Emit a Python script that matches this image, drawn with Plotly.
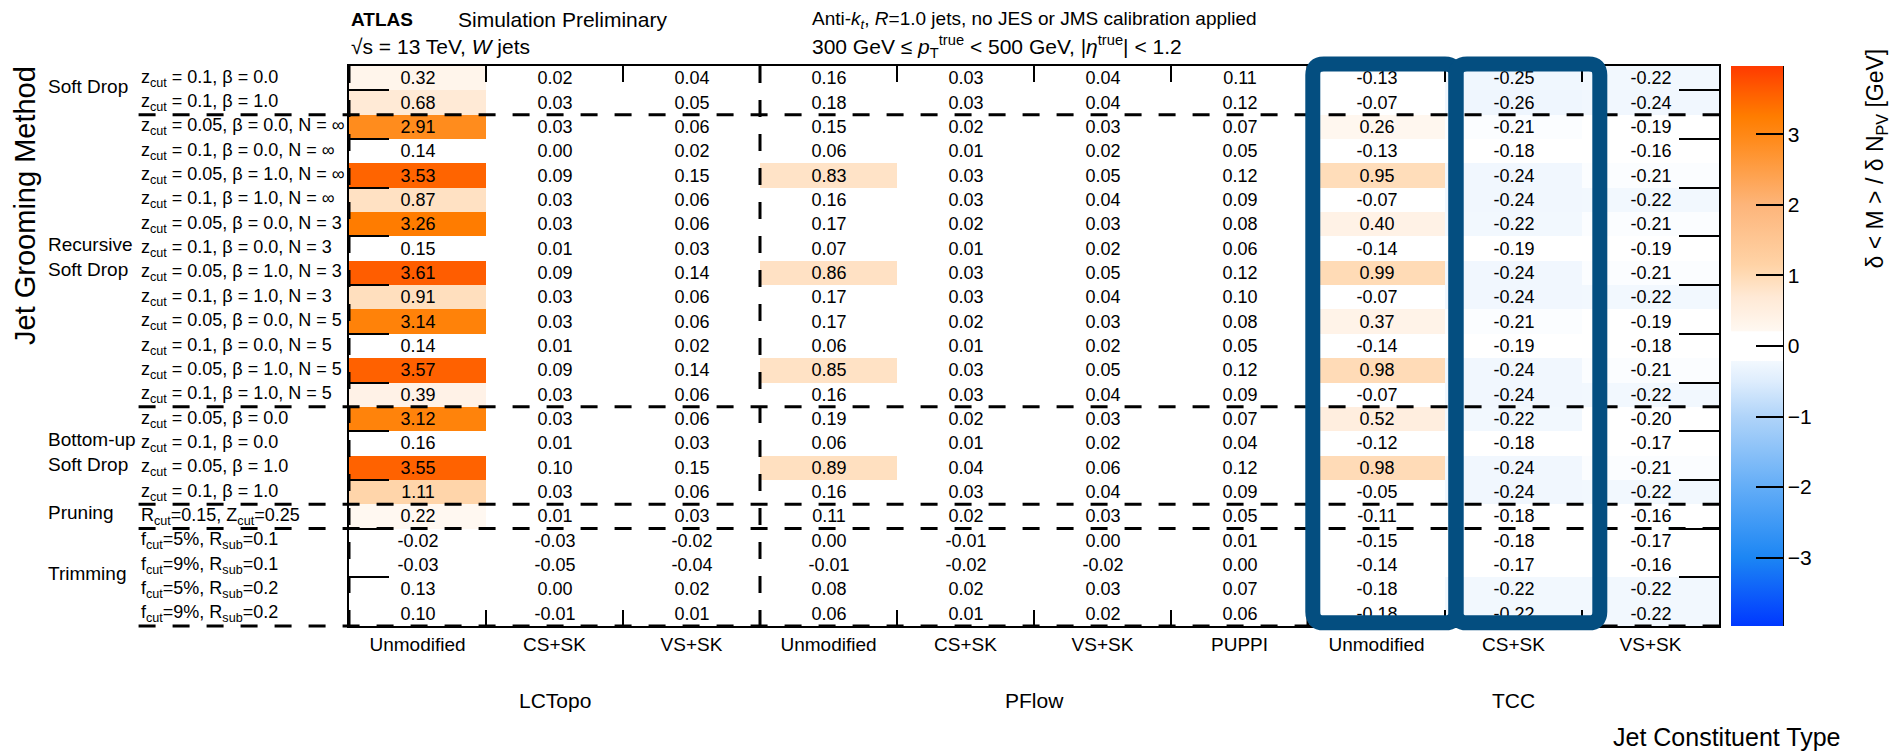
import plotly.graph_objects as go

# ---------------- data ----------------
column_labels = ["Unmodified", "CS+SK", "VS+SK",
                 "Unmodified", "CS+SK", "VS+SK", "PUPPI",
                 "Unmodified", "CS+SK", "VS+SK"]
constituent_groups = ["LCTopo", "PFlow", "TCC"]
constituent_group_sizes = [3, 4, 3]

row_labels = [
    "z<sub>cut</sub> = 0.1, β = 0.0",
    "z<sub>cut</sub> = 0.1, β = 1.0",
    "z<sub>cut</sub> = 0.05, β = 0.0, N = ∞",
    "z<sub>cut</sub> = 0.1, β = 0.0, N = ∞",
    "z<sub>cut</sub> = 0.05, β = 1.0, N = ∞",
    "z<sub>cut</sub> = 0.1, β = 1.0, N = ∞",
    "z<sub>cut</sub> = 0.05, β = 0.0, N = 3",
    "z<sub>cut</sub> = 0.1, β = 0.0, N = 3",
    "z<sub>cut</sub> = 0.05, β = 1.0, N = 3",
    "z<sub>cut</sub> = 0.1, β = 1.0, N = 3",
    "z<sub>cut</sub> = 0.05, β = 0.0, N = 5",
    "z<sub>cut</sub> = 0.1, β = 0.0, N = 5",
    "z<sub>cut</sub> = 0.05, β = 1.0, N = 5",
    "z<sub>cut</sub> = 0.1, β = 1.0, N = 5",
    "z<sub>cut</sub> = 0.05, β = 0.0",
    "z<sub>cut</sub> = 0.1, β = 0.0",
    "z<sub>cut</sub> = 0.05, β = 1.0",
    "z<sub>cut</sub> = 0.1, β = 1.0",
    "R<sub>cut</sub>=0.15, Z<sub>cut</sub>=0.25",
    "f<sub>cut</sub>=5%, R<sub>sub</sub>=0.1",
    "f<sub>cut</sub>=9%, R<sub>sub</sub>=0.1",
    "f<sub>cut</sub>=5%, R<sub>sub</sub>=0.2",
    "f<sub>cut</sub>=9%, R<sub>sub</sub>=0.2",
]
method_groups = ["Soft Drop", "Recursive<br>Soft Drop", "Bottom-up<br>Soft Drop", "Pruning", "Trimming"]
method_group_sizes = [2, 12, 4, 1, 4]

lctopo_unmodified = [0.32, 0.68, 2.91, 0.14, 3.53, 0.87, 3.26, 0.15, 3.61, 0.91, 3.14, 0.14,
                     3.57, 0.39, 3.12, 0.16, 3.55, 1.11, 0.22, -0.02, -0.03, 0.13, 0.10]
lctopo_cs_sk = [0.02, 0.03, 0.03, 0.00, 0.09, 0.03, 0.03, 0.01, 0.09, 0.03, 0.03, 0.01,
                0.09, 0.03, 0.03, 0.01, 0.10, 0.03, 0.01, -0.03, -0.05, 0.00, -0.01]
lctopo_vs_sk = [0.04, 0.05, 0.06, 0.02, 0.15, 0.06, 0.06, 0.03, 0.14, 0.06, 0.06, 0.02,
                0.14, 0.06, 0.06, 0.03, 0.15, 0.06, 0.03, -0.02, -0.04, 0.02, 0.01]
pflow_unmodified = [0.16, 0.18, 0.15, 0.06, 0.83, 0.16, 0.17, 0.07, 0.86, 0.17, 0.17, 0.06,
                    0.85, 0.16, 0.19, 0.06, 0.89, 0.16, 0.11, 0.00, -0.01, 0.08, 0.06]
pflow_cs_sk = [0.03, 0.03, 0.02, 0.01, 0.03, 0.03, 0.02, 0.01, 0.03, 0.03, 0.02, 0.01,
               0.03, 0.03, 0.02, 0.01, 0.04, 0.03, 0.02, -0.01, -0.02, 0.02, 0.01]
pflow_vs_sk = [0.04, 0.04, 0.03, 0.02, 0.05, 0.04, 0.03, 0.02, 0.05, 0.04, 0.03, 0.02,
               0.05, 0.04, 0.03, 0.02, 0.06, 0.04, 0.03, 0.00, -0.02, 0.03, 0.02]
pflow_puppi = [0.11, 0.12, 0.07, 0.05, 0.12, 0.09, 0.08, 0.06, 0.12, 0.10, 0.08, 0.05,
               0.12, 0.09, 0.07, 0.04, 0.12, 0.09, 0.05, 0.01, 0.00, 0.07, 0.06]
tcc_unmodified = [-0.13, -0.07, 0.26, -0.13, 0.95, -0.07, 0.40, -0.14, 0.99, -0.07, 0.37, -0.14,
                  0.98, -0.07, 0.52, -0.12, 0.98, -0.05, -0.11, -0.15, -0.14, -0.18, -0.18]
tcc_cs_sk = [-0.25, -0.26, -0.21, -0.18, -0.24, -0.24, -0.22, -0.19, -0.24, -0.24, -0.21, -0.19,
             -0.24, -0.24, -0.22, -0.18, -0.24, -0.24, -0.18, -0.18, -0.17, -0.22, -0.22]
tcc_vs_sk = [-0.22, -0.24, -0.19, -0.16, -0.21, -0.22, -0.21, -0.19, -0.21, -0.22, -0.19, -0.18,
             -0.21, -0.22, -0.20, -0.17, -0.21, -0.22, -0.16, -0.17, -0.16, -0.22, -0.22]

columns_values = [lctopo_unmodified, lctopo_cs_sk, lctopo_vs_sk,
                  pflow_unmodified, pflow_cs_sk, pflow_vs_sk, pflow_puppi,
                  tcc_unmodified, tcc_cs_sk, tcc_vs_sk]
highlighted_columns = [7, 8]   # TCC Unmodified, TCC CS+SK

colorbar_ticks = [-3, -2, -1, 0, 1, 2, 3]
Z_LIMIT = 3.97

# ---------------- styling / geometry ----------------
FONT = "Liberation Sans, Arial, Helvetica, sans-serif"
W, H = 1901, 755
L, R, T, B = 348.5, 182, 65.5, 129
PW, PH = W - L - R, H - T - B
n_cols, n_rows = len(column_labels), len(row_labels)


def px_to_paper_x(px):
    return (px - L) / PW


def px_to_paper_y(py):
    return 1 - (py - T) / PH


def col_to_paper(c):
    return c / n_cols


def row_to_paper(r):
    return 1 - r / n_rows


z = [[columns_values[c][r] for c in range(n_cols)] for r in range(n_rows)]
text = [[f"{columns_values[c][r]:.2f}" for c in range(n_cols)] for r in range(n_rows)]
x_centers = [c + 0.5 for c in range(n_cols)]
y_centers = [r + 0.5 for r in range(n_rows)]

stops = [
    (-Z_LIMIT, "#0038FF"), (-3.0, "#1C86F4"), (-2.0, "#63ADF7"), (-1.0, "#B0D4F9"),
    (-0.5, "#DEEDFD"), (-0.22, "#F2F8FE"), (-0.205, "#FFFFFF"), (0.2, "#FFFFFF"),
    (0.22, "#FFF8F1"), (0.4, "#FFF2E6"), (0.7, "#FFE9D5"), (0.95, "#FFDDBA"),
    (1.15, "#FFD3A6"), (2.0, "#FDB57A"), (2.9, "#FF8C1E"), (3.25, "#FF7D00"),
    (3.6, "#FF5E00"), (Z_LIMIT, "#FF3A00"),
]
colorscale = [[(v + Z_LIMIT) / (2 * Z_LIMIT), col] for v, col in stops]

CB_LEFT, CB_RIGHT = 1731, 1783

fig = go.Figure()
fig.add_trace(go.Heatmap(
    x=x_centers, y=y_centers, z=z, text=text, texttemplate="%{text}",
    textfont=dict(family=FONT, size=18, color="#000000"),
    colorscale=colorscale, zmin=-Z_LIMIT, zmax=Z_LIMIT, xgap=0, ygap=0,
    hoverinfo="skip",
    colorbar=dict(
        x=px_to_paper_x(CB_LEFT), xanchor="left", xpad=0, thickness=CB_RIGHT - CB_LEFT,
        y=0.5, yanchor="middle", len=1, lenmode="fraction", ypad=0,
        outlinewidth=0, tickvals=colorbar_ticks, ticks="inside", ticklen=27,
        tickwidth=2, tickcolor="black",
        tickfont=dict(family=FONT, size=21, color="black"),
    ),
))

fig.update_xaxes(
    range=[0, n_cols], tickvals=x_centers, ticktext=column_labels, ticks="",
    tickfont=dict(family=FONT, size=19, color="black"),
    minor=dict(tickvals=list(range(1, n_cols)), ticks="inside", ticklen=16,
               tickwidth=2, tickcolor="black", showgrid=False),
    showline=True, linewidth=2, linecolor="black", mirror="ticks",
    showgrid=False, zeroline=False, fixedrange=True,
)
fig.update_yaxes(
    range=[n_rows, 0], tickvals=list(range(1, n_rows, 2)), ticks="inside", ticklen=40,
    tickwidth=2, tickcolor="black", showticklabels=False,
    showline=True, linewidth=2, linecolor="black", mirror="ticks",
    showgrid=False, zeroline=False, fixedrange=True,
)

shapes = []
annotations = []
dash_style = "17px,17px"

# horizontal dashed separators between grooming-method groups
label_left = px_to_paper_x(138)
boundary = 0
for size in method_group_sizes:
    boundary += size
    shapes.append(dict(type="line", xref="paper", yref="paper",
                       x0=label_left, x1=1, y0=row_to_paper(boundary), y1=row_to_paper(boundary),
                       line=dict(color="black", width=3, dash=dash_style)))

# vertical dashed separators between constituent groups
boundary = 0
for size in [0] + constituent_group_sizes[:-1]:
    boundary += size
    shapes.append(dict(type="line", xref="paper", yref="paper",
                       x0=col_to_paper(boundary), x1=col_to_paper(boundary),
                       y0=1, y1=row_to_paper(n_rows + 0.55),
                       line=dict(color="black", width=3, dash=dash_style)))

# colorbar right-edge axis line
shapes.append(dict(type="line", xref="paper", yref="paper",
                   x0=px_to_paper_x(CB_RIGHT), x1=px_to_paper_x(CB_RIGHT), y0=0, y1=1,
                   line=dict(color="black", width=2)))


# rounded highlight boxes around TCC Unmodified / CS+SK
def rounded_rect(c0, c1, r0, r1, radius_px=11):
    x0, x1 = col_to_paper(c0), col_to_paper(c1)
    y0, y1 = row_to_paper(r0), row_to_paper(r1)   # y0 top, y1 bottom
    rx, ry = radius_px / PW, radius_px / PH
    return (f"M {x0 + rx},{y0} L {x1 - rx},{y0} Q {x1},{y0} {x1},{y0 - ry} "
            f"L {x1},{y1 + ry} Q {x1},{y1} {x1 - rx},{y1} "
            f"L {x0 + rx},{y1} Q {x0},{y1} {x0},{y1 + ry} "
            f"L {x0},{y0 - ry} Q {x0},{y0} {x0 + rx},{y0} Z")


edges = [highlighted_columns[0] + 0.035, highlighted_columns[1] + 0.08, highlighted_columns[1] + 1.13]
for i in range(len(highlighted_columns)):
    shapes.append(dict(type="path", xref="paper", yref="paper",
                       path=rounded_rect(edges[i], edges[i + 1], -0.08, n_rows - 0.13),
                       line=dict(color="#044E80", width=15), fillcolor="rgba(0,0,0,0)"))

# row labels (left aligned)
for r, lab in enumerate(row_labels):
    annotations.append(dict(text=lab, xref="paper", yref="y", x=label_left, y=r + 0.5,
                            xanchor="left", yanchor="middle", showarrow=False,
                            font=dict(family=FONT, size=18, color="black")))

# method group labels
start = 0
for name, size in zip(method_groups, method_group_sizes):
    annotations.append(dict(text=name, xref="paper", yref="y", x=px_to_paper_x(45),
                            y=start + size / 2 - 0.15, xanchor="left", yanchor="middle",
                            align="left", showarrow=False,
                            font=dict(family=FONT, size=19, color="black")))
    start += size

# constituent group labels
start = 0
for name, size in zip(constituent_groups, constituent_group_sizes):
    annotations.append(dict(text=name, xref="x", yref="paper", x=start + size / 2,
                            y=px_to_paper_y(701), xanchor="center", yanchor="middle",
                            showarrow=False, font=dict(family=FONT, size=21, color="black")))
    start += size

# axis titles
annotations.append(dict(text="Jet Constituent Type", xref="paper", yref="paper",
                        x=px_to_paper_x(1727), y=px_to_paper_y(737), xanchor="center",
                        yanchor="middle", showarrow=False,
                        font=dict(family=FONT, size=25, color="black")))
annotations.append(dict(text="Jet Grooming Method", xref="paper", yref="paper",
                        x=px_to_paper_x(25), y=px_to_paper_y(205), xanchor="center",
                        yanchor="middle", textangle=-90, showarrow=False,
                        font=dict(family=FONT, size=29, color="black")))
annotations.append(dict(text="δ &lt; M &gt; / δ N<sub>PV</sub> [GeV]", xref="paper", yref="paper",
                        x=px_to_paper_x(1877), y=px_to_paper_y(46), xanchor="center",
                        yanchor="top", textangle=-90, showarrow=False,
                        font=dict(family=FONT, size=23, color="black")))

# header texts
header = [
    ("<b>ATLAS</b>", 349, 19, 19),
    ("Simulation Preliminary", 456, 19, 21),
    ("√s = 13 TeV, <i>W</i> jets", 349, 46, 21),
    ("Anti-<i>k</i><sub><i>t</i></sub>, <i>R</i>=1.0 jets, no JES or JMS calibration applied", 810, 19, 19),
    ("300 GeV ≤ <i>p</i><sub>T</sub><sup>true</sup> &lt; 500 GeV, |<i>η</i><sup>true</sup>| &lt; 1.2", 810, 46, 21),
]
for txt, xp, yp, fs in header:
    annotations.append(dict(text=txt, xref="paper", yref="paper", x=px_to_paper_x(xp),
                            y=px_to_paper_y(yp), xanchor="left", yanchor="middle",
                            showarrow=False, font=dict(family=FONT, size=fs, color="black")))

fig.update_layout(
    width=W, height=H, autosize=False,
    margin=dict(l=L, r=R, t=T, b=B, pad=0, autoexpand=False),
    paper_bgcolor="white", plot_bgcolor="white",
    font=dict(family=FONT, size=19, color="black"),
    shapes=shapes, annotations=annotations, showlegend=False,
)

fig.write_html("out.html")
